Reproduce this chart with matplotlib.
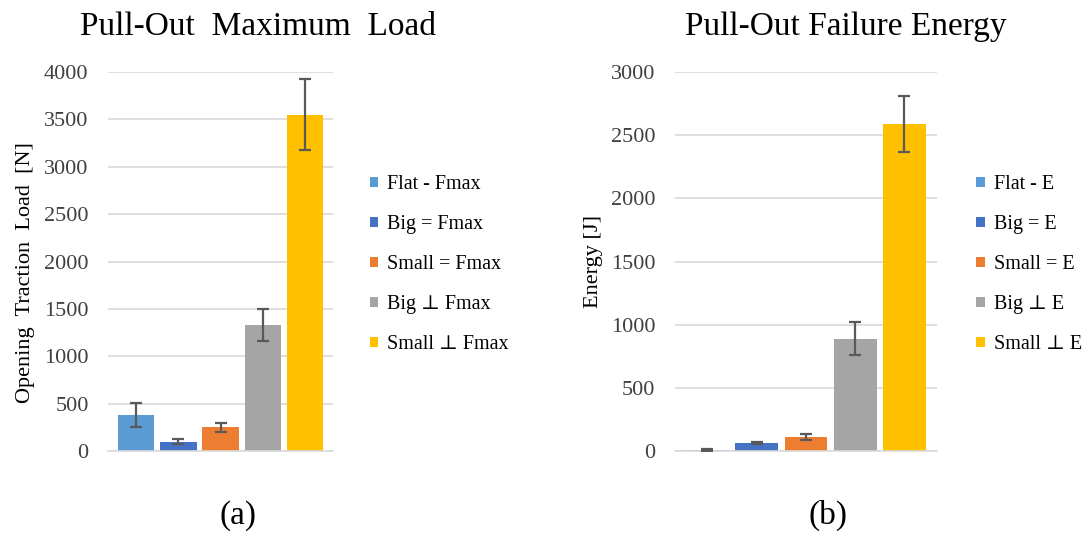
import matplotlib.pyplot as plt

plt.rcParams['font.family'] = ['Liberation Serif', 'DejaVu Serif']

colors = ['#5B9BD5', '#4472C4', '#ED7D31', '#A5A5A5', '#FFC000']
fmax_labels = ['Flat - Fmax', 'Big = Fmax', 'Small = Fmax', 'Big \u22a5 Fmax', 'Small \u22a5 Fmax']
fmax_vals = [380, 100, 250, 1330, 3550]
fmax_err = [125, 25, 45, 165, 375]
energy_labels = ['Flat - E', 'Big = E', 'Small = E', 'Big \u22a5 E', 'Small \u22a5 E']
energy_vals = [10, 62, 110, 890, 2590]
energy_err = [8, 8, 25, 130, 220]

fig = plt.figure(figsize=(10.89, 5.37), dpi=100)

def panel(rect, vals, errs, labels, ymax, title, title_x, ylabel, leg_x, tag, tag_x):
    ax = fig.add_axes(rect)
    x = range(len(vals))
    bars = ax.bar(x, vals, width=0.865, color=colors, zorder=2)
    ax.errorbar(x, vals, yerr=errs, fmt='none', ecolor='#595959', elinewidth=1.6,
                capsize=4, capthick=1.6, zorder=3)
    ax.set_xlim(-0.66, 4.66)
    ax.set_ylim(0, ymax)
    ax.set_yticks(range(0, ymax + 1, 500))
    ax.set_xticks([])
    ax.grid(axis='y', color='#d9d9d9', linewidth=1.2, zorder=0)
    for s in ['top', 'right', 'left']:
        ax.spines[s].set_visible(False)
    ax.spines['bottom'].set_color('#d9d9d9')
    ax.spines['bottom'].set_linewidth(1.2)
    ax.tick_params(axis='y', length=0, pad=14, labelsize=16, labelcolor='#404040')
    fig.text(title_x, 0.935, title, fontsize=24, ha='center', va='baseline')
    ax.set_ylabel(ylabel, fontsize=16)
    ax.legend(bars, labels, loc='upper left', bbox_to_anchor=(leg_x, 0.707),
              bbox_transform=fig.transFigure, frameon=False, fontsize=14.5,
              handlelength=0.42, handleheight=0.42, handletextpad=0.45, labelspacing=1.04)
    fig.text(tag_x, 0.025, tag, fontsize=24, ha='center')
    return ax

ax1 = panel([0.0992, 0.160, 0.2066, 0.706], fmax_vals, fmax_err, fmax_labels, 4000,
            'Pull-Out  Maximum  Load', 0.237, 'Opening  Traction  Load  [N]', 0.323, '(a)', 0.219)
ax1.yaxis.set_label_coords(-0.325, 0.47)
ax2 = panel([0.6198, 0.160, 0.2406, 0.706], energy_vals, energy_err, energy_labels, 3000,
            'Pull-Out Failure Energy', 0.777, 'Energy [J]', 0.880, '(b)', 0.760)
ax2.yaxis.set_label_coords(-0.275, 0.5)

fig.savefig('out.png', dpi=100)
